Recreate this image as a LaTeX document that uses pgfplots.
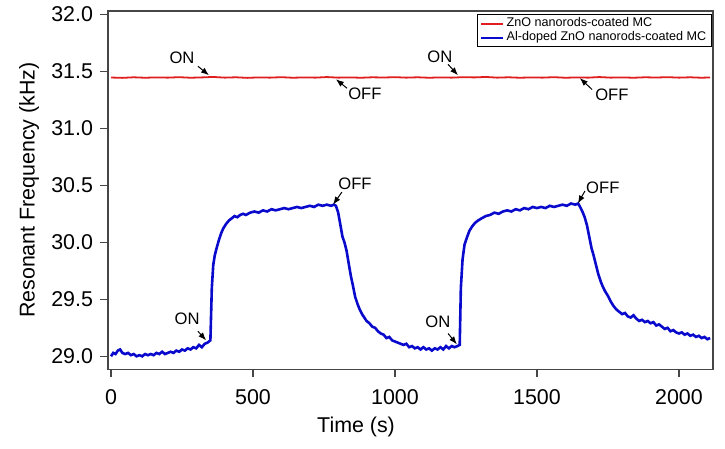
\documentclass[border=0pt]{standalone}
\usepackage{pgfplots}
\pgfplotsset{compat=1.18}
\usepackage{fontspec}
\setmainfont{Liberation Sans}
\usetikzlibrary{arrows.meta}
\definecolor{myred}{RGB}{225,30,30}
\definecolor{myblue}{RGB}{10,10,205}
\definecolor{axgray}{RGB}{70,70,70}
\begin{document}
\begin{tikzpicture}
\begin{axis}[
  name=ax,
  scale only axis,
  width=302.5pt, height=179.25pt,
  xmin=-10.6, xmax=2120,
  ymin=28.886, ymax=32.03,
  xtick={0,500,1000,1500,2000},
  ytick={29,29.5,30,30.5,31,31.5,32},
  xtick pos=left, ytick pos=left,
  tick align=outside,
  major tick length=4pt,
  axis line style={draw=axgray, line width=0.7pt},
  tick style={draw=axgray, line width=0.6pt},
  /pgf/number format/assume math mode=true,
  xticklabel style={font=\fontsize{10.7}{12}\selectfont, /pgf/number format/1000 sep={}, yshift=-2.5pt},
  yticklabel style={font=\fontsize{10.7}{12}\selectfont, /pgf/number format/.cd, fixed, fixed zerofill, precision=1},
  xlabel={Time (s)},
  ylabel={Resonant Frequency (kHz)},
  xlabel style={font=\fontsize{10.7}{12}\selectfont, at={(axis description cs:0.41,-0.1618)}, anchor=center},
  ylabel style={font=\fontsize{10.7}{12}\selectfont, at={(axis description cs:-0.1306,0.5)}, anchor=center},
  legend style={at={(1,1)}, anchor=north east, xshift=-0.5pt, yshift=-1.75pt,
    draw=black, line width=0.4pt, font=\fontsize{6.3}{7.5}\selectfont,
    inner xsep=1.5pt, inner ysep=0.2pt, row sep=-1.5pt,
    nodes={inner sep=1.2pt}},
  legend cell align=left,
  legend image code/.code={\draw[#1, line width=1pt] (0pt,0pt) -- (11pt,0pt);},
  clip=false,
]
\addplot[myred, line width=0.9pt] coordinates {
(0,31.445) (40,31.442) (80,31.447) (120,31.443) (160,31.446) (200,31.444) (240,31.448) (280,31.443)
(320,31.446) (360,31.450) (400,31.444) (440,31.447) (480,31.442) (520,31.446) (560,31.444) (600,31.448)
(640,31.443) (680,31.446) (720,31.444) (760,31.449) (800,31.444) (840,31.446) (880,31.443) (920,31.447)
(960,31.445) (1000,31.448) (1040,31.444) (1080,31.447) (1120,31.443) (1160,31.446) (1200,31.444) (1240,31.448)
(1280,31.446) (1320,31.450) (1360,31.444) (1400,31.447) (1440,31.443) (1480,31.446) (1520,31.444) (1560,31.448)
(1600,31.443) (1640,31.446) (1680,31.444) (1720,31.449) (1760,31.444) (1800,31.446) (1840,31.443) (1880,31.447)
(1920,31.445) (1960,31.448) (2000,31.444) (2040,31.447) (2080,31.443) (2110,31.446)
};
\addlegendentry{ZnO nanorods-coated MC}
\addplot[myblue, line width=1.3pt] coordinates {
(0,29.00) (8,29.03) (16,29.02) (24,29.05) (32,29.06) (40,29.03) (50,29.02) (60,29.03) (70,29.01) (80,29.02)
(90,29.00) (100,29.01) (110,29.00) (120,29.02) (130,29.01) (140,29.02) (150,29.01) (160,29.03) (170,29.02)
(180,29.04) (190,29.02) (200,29.03) (210,29.04) (220,29.03) (230,29.05) (240,29.04) (250,29.06) (260,29.05)
(270,29.07) (280,29.06) (290,29.08) (300,29.07) (310,29.10) (320,29.08) (330,29.11) (340,29.12) (350,29.14)
(355,29.60) (360,29.80) (365,29.88) (372,29.95) (380,30.02) (388,30.08) (395,30.12) (405,30.16) (415,30.19)
(425,30.21) (435,30.23) (445,30.22) (455,30.24) (465,30.25) (475,30.24) (490,30.26) (505,30.27) (520,30.26)
(535,30.28) (550,30.27) (565,30.29) (580,30.28) (595,30.29) (610,30.30) (625,30.29) (640,30.30) (655,30.31)
(670,30.30) (685,30.31) (700,30.32) (715,30.31) (730,30.33) (745,30.32) (760,30.33) (775,30.32) (785,30.33)
(792,30.32) (800,30.26) (808,30.15) (815,30.05) (822,30.00) (830,29.92) (838,29.80) (845,29.70) (852,29.62)
(860,29.52) (868,29.46) (876,29.41) (884,29.37) (892,29.34) (900,29.31) (910,29.29) (920,29.26) (930,29.25)
(940,29.22) (950,29.20) (960,29.19) (970,29.16) (980,29.17) (990,29.14) (1000,29.13) (1010,29.12) (1020,29.11)
(1030,29.10) (1040,29.11) (1050,29.08) (1060,29.09) (1070,29.07) (1080,29.08) (1090,29.06) (1100,29.08)
(1110,29.06) (1120,29.07) (1130,29.05) (1140,29.07) (1150,29.06) (1160,29.08) (1170,29.06) (1180,29.09)
(1190,29.07) (1200,29.09) (1210,29.08) (1220,29.09) (1228,29.10) (1232,29.60) (1238,29.85) (1245,29.98)
(1253,30.04) (1262,30.10) (1272,30.14) (1282,30.17) (1292,30.19) (1305,30.21) (1320,30.23) (1335,30.24)
(1350,30.26) (1365,30.25) (1380,30.27) (1395,30.28) (1410,30.27) (1425,30.29) (1440,30.28) (1455,30.30)
(1470,30.29) (1485,30.31) (1500,30.30) (1515,30.31) (1530,30.30) (1545,30.32) (1560,30.31) (1575,30.32)
(1590,30.33) (1605,30.32) (1620,30.34) (1635,30.33) (1645,30.34) (1652,30.31) (1660,30.27) (1668,30.22)
(1676,30.15) (1684,30.05) (1692,29.95) (1700,29.88) (1708,29.80) (1716,29.72) (1724,29.66) (1732,29.61)
(1740,29.57) (1750,29.53) (1760,29.48) (1770,29.44) (1780,29.41) (1790,29.39) (1800,29.37) (1810,29.38)
(1820,29.35) (1830,29.34) (1840,29.36) (1850,29.33) (1860,29.31) (1870,29.32) (1880,29.30) (1890,29.31)
(1900,29.29) (1910,29.30) (1920,29.27) (1930,29.28) (1940,29.26) (1950,29.24) (1960,29.25) (1970,29.22)
(1980,29.23) (1990,29.21) (2000,29.20) (2010,29.21) (2020,29.19) (2030,29.20) (2040,29.18) (2050,29.19)
(2060,29.17) (2070,29.18) (2080,29.16) (2090,29.17) (2100,29.15) (2110,29.16)
};
\addlegendentry{Al-doped ZnO nanorods-coated MC}
% annotations
\tikzset{ann/.style={font=\fontsize{8.3}{9}\selectfont, inner sep=0pt},
         arr/.style={-{Latex[length=4pt,width=3pt]}, line width=0.5pt, black}}
\node[ann] at (axis cs:250,31.614) {ON};
\draw[arr] (axis cs:306,31.544) -- (axis cs:345,31.465);
\node[ann] at (axis cs:894,31.298) {OFF};
\draw[arr] (axis cs:831,31.351) -- (axis cs:792,31.43);
\node[ann] at (axis cs:1158,31.63) {ON};
\draw[arr] (axis cs:1187,31.56) -- (axis cs:1222,31.465);
\node[ann] at (axis cs:1764,31.29) {OFF};
\draw[arr] (axis cs:1694,31.34) -- (axis cs:1651,31.44);
\node[ann] at (axis cs:268,29.325) {ON};
\draw[arr] (axis cs:306,29.22) -- (axis cs:335,29.14);
\node[ann] at (axis cs:859,30.51) {OFF};
\draw[arr] (axis cs:813,30.44) -- (axis cs:782,30.33);
\node[ann] at (axis cs:1151,29.30) {ON};
\draw[arr] (axis cs:1187,29.20) -- (axis cs:1218,29.105);
\node[ann] at (axis cs:1732,30.48) {OFF};
\draw[arr] (axis cs:1669,30.45) -- (axis cs:1644,30.34);
\end{axis}
\path ([xshift=-54pt,yshift=-39.5pt]ax.south west) rectangle ([xshift=6pt,yshift=4.75pt]ax.north east);
\end{tikzpicture}
\end{document}
